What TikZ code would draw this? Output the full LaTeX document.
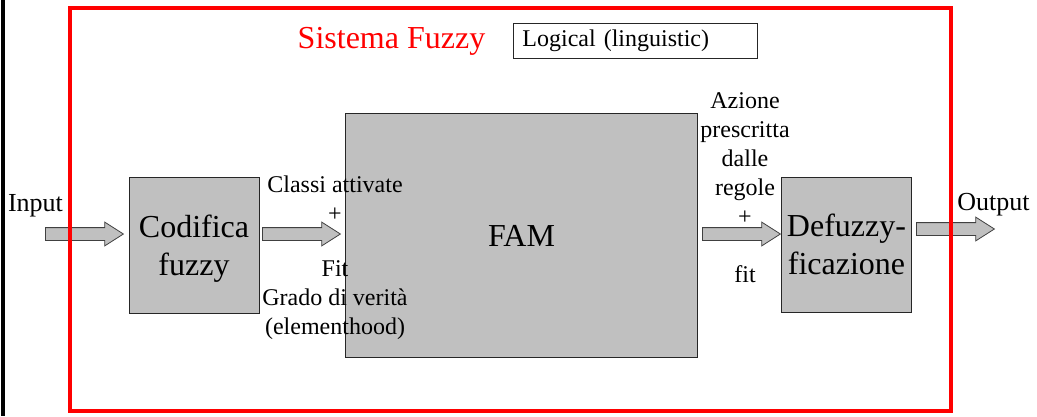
\documentclass[tikz,border=0pt]{standalone}
\usepackage{fontspec}
\setmainfont{Liberation Serif}
\newfontfamily\fzserif{Liberation Serif}
\usetikzlibrary{positioning,shapes.arrows}
\definecolor{fzgray}{RGB}{192,192,192}
\definecolor{fzred}{RGB}{255,0,0}

\begin{document}
\begin{tikzpicture}[x=1pt,y=-1pt,
      blk/.style={draw=black!85,line width=0.9pt,fill=fzgray,inner sep=0pt,align=center,font=\fzserif\fontsize{32}{38}\selectfont},
      lbl/.style={inner sep=0pt,align=center,font=\fzserif\fontsize{24}{29}\selectfont},
      io/.style={inner sep=0pt,font=\fzserif\fontsize{26}{30}\selectfont},
      fat/.style={single arrow,draw=black!75,line width=0.8pt,fill=fzgray,inner xsep=0pt,inner ysep=6pt,anchor=tail,
        minimum width=0pt,minimum height=78pt,single arrow head extend=5.5pt,single arrow tip angle=65}]
      \useasboundingbox (0,0) rectangle (1037,416);
      \draw[line width=4pt] (3,0) -- (3,416);
      % blocks
      \node[blk,minimum width=130pt,minimum height=136pt,text height=67pt,text depth=7pt] (cod) at (194,245) {Codifica\\fuzzy};
      \node[blk,minimum width=352pt,minimum height=244pt] (fam) at (521.5,235.5) {FAM};
      \node[blk,minimum width=130pt,minimum height=135pt,text height=67pt,text depth=7pt] (defz) at (846.5,244.5) {Defuzzy-\\ficazione};
      \node[draw=black!85,line width=0.9pt,anchor=north west,inner xsep=9pt,inner ysep=0pt,text width=226pt,
        minimum height=35pt,align=left,font=\fzserif\fontsize{24}{28}\selectfont] (lang) at (513,23) {Logical (linguistic)};
      % block arrows
      \node[fat] (ain) at (45,234) {};
      \node[fat] (a2) at (262,234) {};
      \node[fat] (a3) at (702,234) {};
      \node[fat] (aout) at (916,229) {};
      % labels
      \node[io] (inp) at (35.5,206) {Input};
      \node[io] (outp) at (993.5,205) {Output};
      \node[lbl] (cls) at (335,199) {Classi attivate\\+};
      \node[lbl] (fit1) at (335,300) {Fit\\Grado di verità\\(elementhood)};
      \node[lbl] (act) at (745,159) {Azione\\prescritta\\dalle\\regole\\+};
      \node[lbl] (fit2) at (745,274) {fit};
      \node[text=fzred,inner sep=0pt,font=\fzserif\fontsize{32}{38}\selectfont] (title) at (391.5,41) {Sistema Fuzzy};
      % frame
      \node[draw=fzred,line width=4pt,inner sep=0pt,minimum width=881pt,minimum height=403pt] (sys) at (510.5,209.5) {};
    \end{tikzpicture}
\end{document}
